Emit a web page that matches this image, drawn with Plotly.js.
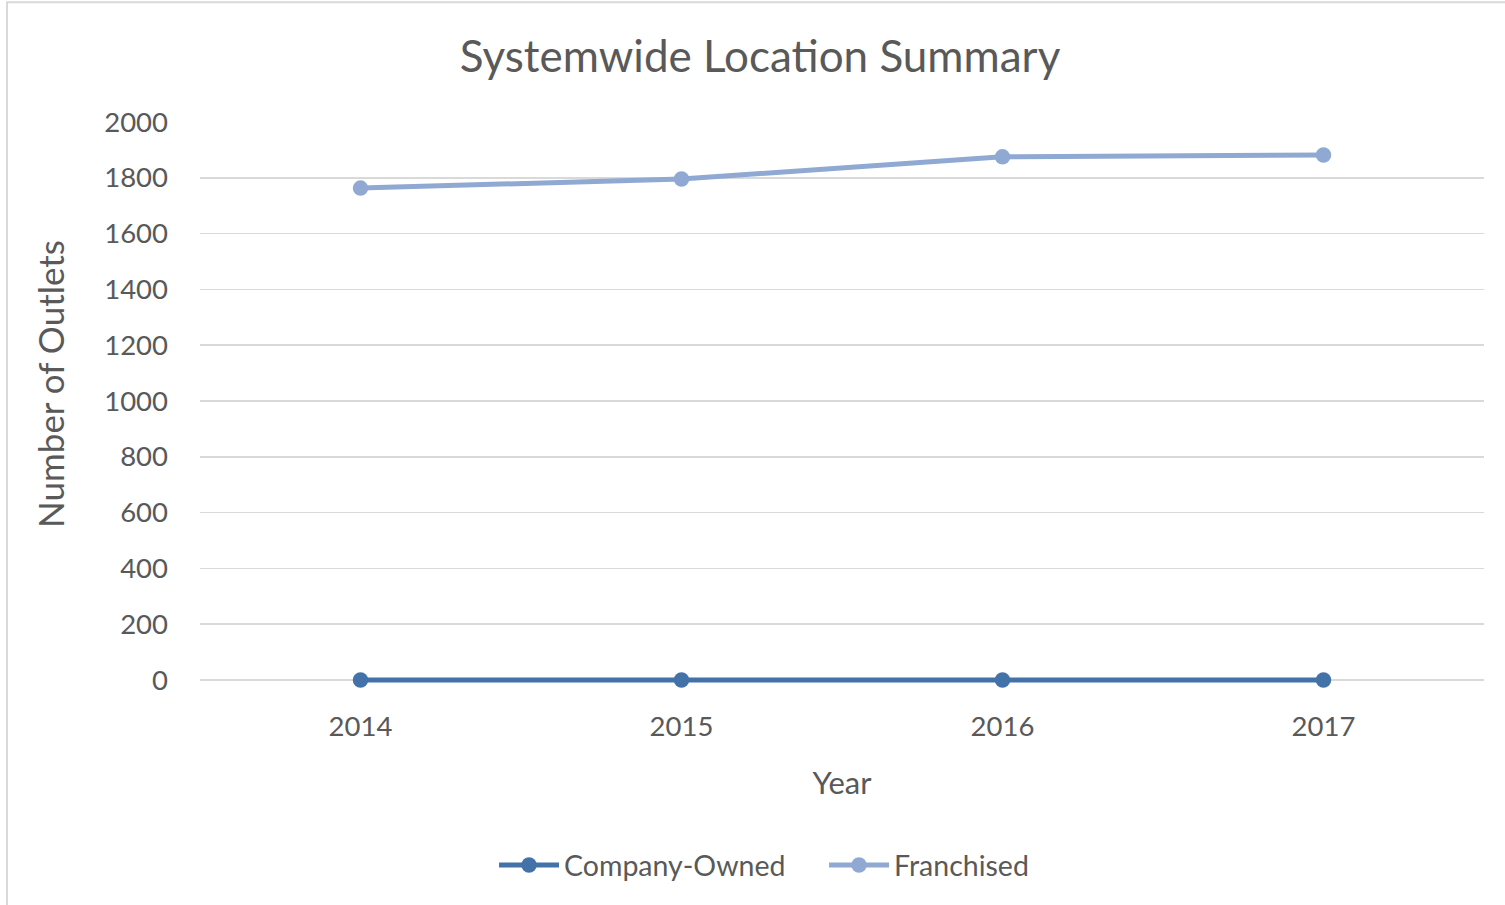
<!DOCTYPE html>
<html>
<head>
<meta charset="utf-8">
<script src="https://cdn.plot.ly/plotly-3.0.1.min.js"></script>
<style>html,body{margin:0;padding:0;background:#fff;}#chart{width:1505px;height:905px;}</style>
</head>
<body>
<div id="chart"></div>
<script>
const years = ['2014', '2015', '2016', '2017'];
const companyOwned = [0, 0, 0, 0];
const franchised = [1763, 1796, 1875, 1882];
const yTicks = [0, 200, 400, 600, 800, 1000, 1200, 1400, 1600, 1800, 2000];

const font = 'Lato, "Open Sans", sans-serif';
const traces = [
  {x: years, y: companyOwned, name: 'Company-Owned', type: 'scatter', mode: 'lines+markers', cliponaxis: false,
   line: {color: '#4372a9', width: 5}, marker: {color: '#4372a9', size: 15.5}},
  {x: years, y: franchised, name: 'Franchised', type: 'scatter', mode: 'lines+markers', cliponaxis: false,
   line: {color: '#8fa9d2', width: 5}, marker: {color: '#8fa9d2', size: 15.5}}
];
const layout = {
  width: 1505, height: 905,
  margin: {l: 200, r: 21, t: 122, b: 221},
  paper_bgcolor: '#fff', plot_bgcolor: '#fff',
  font: {family: font, color: '#595959', size: 26},
  title: {text: 'Systemwide Location Summary', font: {size: 44, color: '#595959', family: font}, x: 0.505, xanchor: 'center', y: 0.937, yanchor: 'middle'},
  xaxis: {type: 'category', range: [-0.5, 3.5], showgrid: false, showline: false, zeroline: false,
    ticks: '', tickfont: {size: 27.5}, ticklabelstandoff: 23,
    title: {text: 'Year', font: {size: 31}, standoff: 31}},
  yaxis: {range: [-14.34, 2000], tickvals: yTicks, ticktext: yTicks.map(String), showgrid: true, gridcolor: '#d9d9d9', gridwidth: 1.5,
    zeroline: false, showline: false, ticks: '', tickfont: {size: 27.5}, ticklabelstandoff: 31},
  annotations: [{text: 'Number of Outlets', textangle: -90, xref: 'paper', yref: 'paper',
    x: -0.1168, y: 0.534, xanchor: 'center', yanchor: 'middle', showarrow: false,
    font: {size: 35, color: '#595959', family: font}}],
  showlegend: true,
  legend: {orientation: 'h', x: 0.229, xanchor: 'left', y: -0.323, yanchor: 'middle', font: {size: 28.5},
    itemwidth: 60, entrywidth: 255, entrywidthmode: 'pixels'},
  shapes: [{type: 'rect', xref: 'paper', yref: 'paper', x0: -0.1503, x1: 1.03, y0: -0.398, y1: 1.2133,
    line: {color: '#d9d9d9', width: 2}, fillcolor: 'rgba(0,0,0,0)', layer: 'below'}]
};
Plotly.newPlot('chart', traces, layout, {displayModeBar: false, staticPlot: true});
</script>
</body>
</html>
